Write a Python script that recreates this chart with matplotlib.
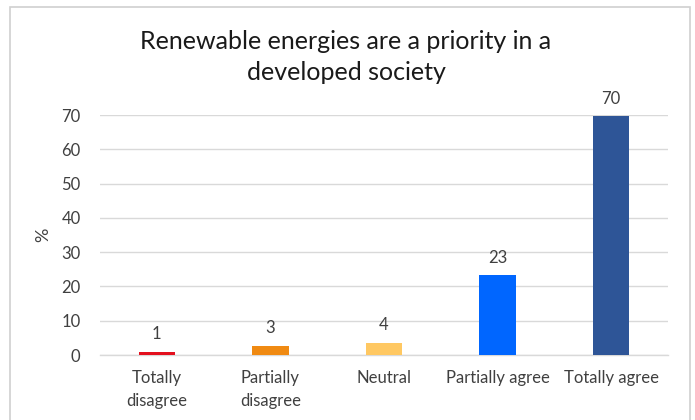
import matplotlib
matplotlib.use("Agg")
import matplotlib.pyplot as plt
from matplotlib.patches import Rectangle

categories = ["Totally\ndisagree", "Partially\ndisagree", "Neutral", "Partially agree", "Totally agree"]
values = [0.9, 2.6, 3.6, 23.2, 69.6]
colors = ["#E3101E", "#F08A12", "#FFC862", "#0066FF", "#2E5597"]
yticks = [0, 10, 20, 30, 40, 50, 60, 70]

plt.rcParams["font.family"] = ["Lato", "DejaVu Sans"]

fig = plt.figure(figsize=(6.95, 4.2), dpi=100)
fig.patch.set_facecolor("white")

# outer chart frame
fig.patches.append(Rectangle((10 / 695, -0.01), 680 / 695, 1 - 7 / 420 + 0.01,
                             transform=fig.transFigure, fill=False,
                             edgecolor="#D0D0D0", linewidth=1.2))

ax = fig.add_axes([100 / 695, 1 - 355 / 420, 568 / 695, (355 - 115) / 420])
x = list(range(len(categories)))
bars = ax.bar(x, values, width=0.32, color=colors, zorder=3)

for b, v in zip(bars, values):
    ax.text(b.get_x() + b.get_width() / 2, v + 2.8, f"{v:.0f}",
            ha="center", va="bottom", fontsize=12, color="#404040", clip_on=False)

ax.set_xlim(-0.5, len(categories) - 0.5)
ax.set_ylim(0, 70)
ax.set_yticks(yticks)
ax.set_yticklabels([str(t) for t in yticks], fontsize=12, color="#404040")
ax.set_xticks(x)
ax.set_xticklabels(categories, fontsize=12, color="#404040", linespacing=1.5)
ax.tick_params(axis="both", length=0)
ax.tick_params(axis="y", pad=14)
ax.tick_params(axis="x", pad=11)

ax.grid(axis="y", color="#D9D9D9", linewidth=1.0, zorder=0)
for s in ["top", "right", "left"]:
    ax.spines[s].set_visible(False)
ax.spines["bottom"].set_color("#D9D9D9")
ax.spines["bottom"].set_linewidth(1.0)

ax.set_ylabel("%", fontsize=13, color="#404040", labelpad=7)

fig.text(346 / 695, 1 - 57 / 420, "Renewable energies are a priority in a\ndeveloped society",
         ha="center", va="center", fontsize=18, color="#1A1A1A", linespacing=1.45)

fig.savefig("out.png", dpi=100, facecolor="white")
